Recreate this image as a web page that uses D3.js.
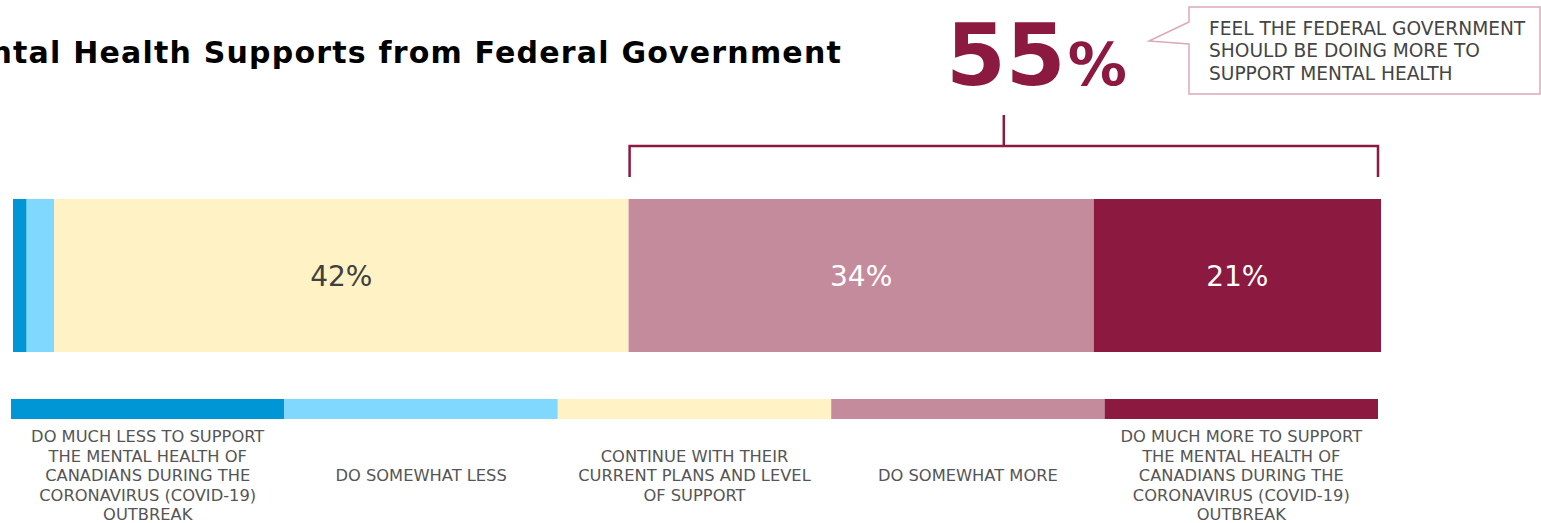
<!DOCTYPE html>
<html>
<head>
<meta charset="utf-8">
<script src="https://cdn.jsdelivr.net/npm/d3@7"></script>
<style>
  body { margin: 0; background: #fff; }
  svg { display: block; font-family: "DejaVu Sans", Verdana, sans-serif; }
</style>
</head>
<body>
<div id="chart"></div>
<script>
const categories = ["much_less", "somewhat_less", "continue", "somewhat_more", "much_more"];
const values = [1, 2, 42, 34, 21];
const legendLabels = [
  ["DO MUCH LESS TO SUPPORT", "THE MENTAL HEALTH OF", "CANADIANS DURING THE", "CORONAVIRUS (COVID-19)", "OUTBREAK"],
  ["DO SOMEWHAT LESS"],
  ["CONTINUE WITH THEIR", "CURRENT PLANS AND LEVEL", "OF SUPPORT"],
  ["DO SOMEWHAT MORE"],
  ["DO MUCH MORE TO SUPPORT", "THE MENTAL HEALTH OF", "CANADIANS DURING THE", "CORONAVIRUS (COVID-19)", "OUTBREAK"]
];
const colors = ["#0095d5", "#80d8ff", "#fff2c4", "#c48b9d", "#8b1940"];
const labelColors = [null, null, "#404040", "#ffffff", "#ffffff"];
const moreTotal = 55;
const calloutLines = ["FEEL THE FEDERAL GOVERNMENT", "SHOULD BE DOING MORE TO", "SUPPORT MENTAL HEALTH"];
const title = "Mental Health Supports from Federal Government";

const w = 1541, h = 523;
const svg = d3.select("#chart").append("svg").attr("width", w).attr("height", h);

// title (cut off at the left like the original)
svg.append("text")
  .attr("x", 842).attr("y", 63)
  .attr("text-anchor", "end")
  .attr("font-weight", "bold")
  .attr("font-size", "30px")
  .attr("letter-spacing", "1.2px")
  .attr("fill", "#000")
  .text(title);

// stacked bar
const x = d3.scaleLinear().domain([0, d3.sum(values)]).range([13, 1381]);
const starts = d3.cumsum([0].concat(values)).slice(0, -1);
const segs = values.map((v, i) => ({ v: v, start: starts[i], color: colors[i], label: labelColors[i] }));
const barTop = 199, barH = 153;

svg.selectAll("rect.bar")
  .data(segs)
  .enter()
  .append("rect")
  .attr("class", "bar")
  .attr("x", d => x(d.start))
  .attr("y", barTop)
  .attr("width", d => x(d.start + d.v) - x(d.start))
  .attr("height", barH)
  .style("fill", d => d.color);

svg.selectAll("text.val")
  .data(segs.filter(d => d.label))
  .enter()
  .append("text")
  .attr("class", "val")
  .attr("x", d => (x(d.start) + x(d.start + d.v)) / 2)
  .attr("y", barTop + barH / 2)
  .attr("dy", "0.36em")
  .attr("text-anchor", "middle")
  .attr("font-size", "28px")
  .attr("fill", d => d.label)
  .text(d => d.v + "%");

// bracket over the "more" segments
const bStart = x(starts[3]) + 1, bEnd = x(starts[4] + values[4]) - 3;
const bY = 146, bBottom = 177;
const bracketColor = "#8b1940";
svg.append("path")
  .attr("d", `M${bStart},${bBottom} V${bY} H${bEnd} V${bBottom}`)
  .attr("fill", "none")
  .attr("stroke", bracketColor)
  .attr("stroke-width", 2.5);
const bMid = (bStart + bEnd) / 2;
svg.append("line")
  .attr("x1", bMid).attr("x2", bMid)
  .attr("y1", 115).attr("y2", bY)
  .attr("stroke", bracketColor)
  .attr("stroke-width", 2.5);

// big number
const big = svg.append("text")
  .attr("x", 946).attr("y", 85)
  .attr("font-weight", "bold")
  .attr("fill", bracketColor);
big.append("tspan").attr("font-size", "86px").text(moreTotal);
big.append("tspan").attr("font-size", "59px").attr("dx", 2).text("%");

// callout box
const boxL = 1189, boxR = 1540, boxT = 7, boxB = 94;
svg.append("path")
  .attr("d", `M${boxL},${boxT} H${boxR} V${boxB} H${boxL} V44 L1149,41 L${boxL},22 Z`)
  .attr("fill", "#fff")
  .attr("stroke", "#dba9b9")
  .attr("stroke-width", 1.5);
svg.append("g").selectAll("text")
  .data(calloutLines)
  .enter()
  .append("text")
  .attr("x", 1209)
  .attr("y", (d, i) => 28 + i * 22.5)
  .attr("dy", "0.36em")
  .attr("font-size", "18.6px")
  .attr("fill", "#444")
  .text(d => d);

// legend
const lx = d3.scaleBand().domain(categories).range([11, 1378]);
svg.selectAll("rect.leg")
  .data(categories)
  .enter()
  .append("rect")
  .attr("class", "leg")
  .attr("x", d => lx(d))
  .attr("y", 399)
  .attr("width", lx.bandwidth())
  .attr("height", 20)
  .style("fill", (d, i) => colors[i]);

const lineH = 19.5, midY = 475.5;
categories.forEach((c, i) => {
  const lines = legendLabels[i];
  svg.append("g").selectAll("text")
    .data(lines)
    .enter()
    .append("text")
    .attr("x", lx(c) + lx.bandwidth() / 2)
    .attr("y", (d, j) => midY + (j - (lines.length - 1) / 2) * lineH)
    .attr("dy", "0.36em")
    .attr("text-anchor", "middle")
    .attr("font-size", "16.3px")
    .attr("fill", "#555")
    .text(d => d);
});
</script>
</body>
</html>
